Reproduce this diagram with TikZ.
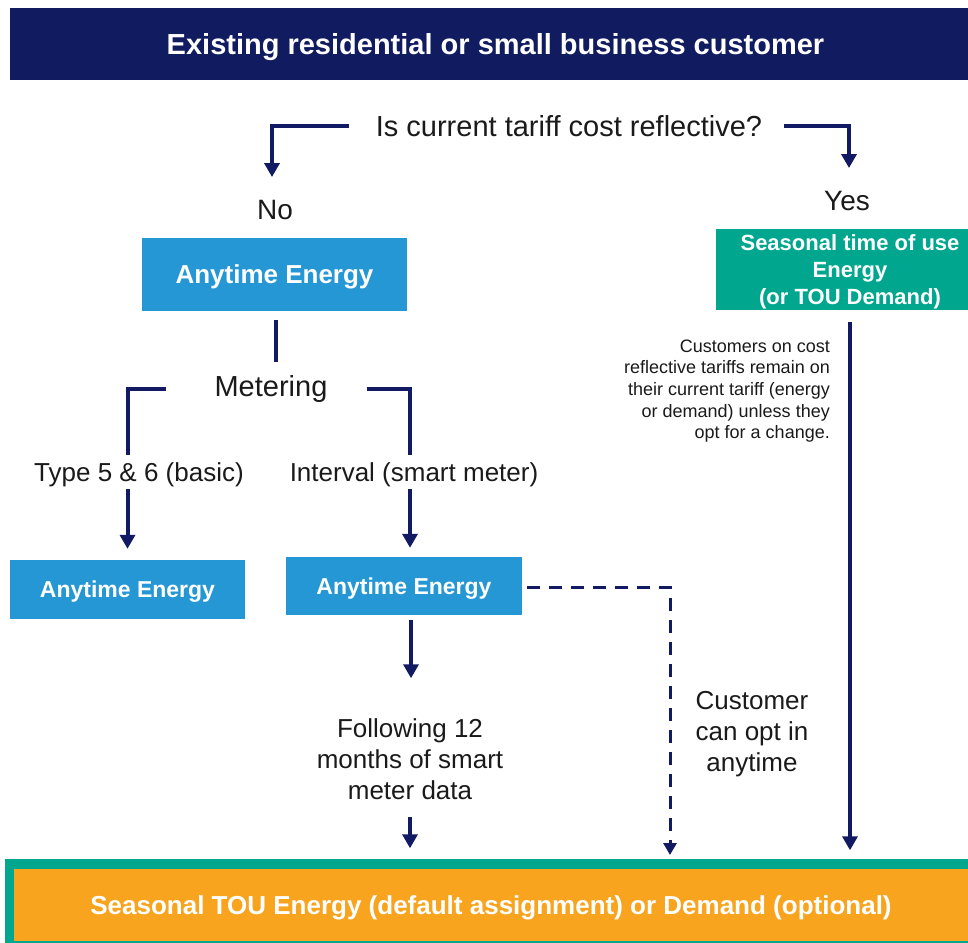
\documentclass[tikz,border=0pt]{standalone}
\usepackage{fontspec}
\setmainfont{Liberation Sans}
\usetikzlibrary{arrows.meta,calc}
\definecolor{navyband}{RGB}{17,27,96}
\definecolor{linknavy}{RGB}{18,26,100}
\definecolor{skyblue}{RGB}{37,151,213}
\definecolor{tealgreen}{RGB}{0,167,142}
\definecolor{amber}{RGB}{248,164,30}
\definecolor{ink}{RGB}{26,26,26}
\newcommand{\myfs}[2]{\fontsize{#1}{#2}\selectfont}
\begin{document}
\begin{tikzpicture}[x=1pt,y=-1pt,
  txt/.style={inner sep=0pt, text=ink, align=center},
  box/.style={inner sep=0pt, text=white, align=center, text depth=0pt},
  arr/.style={draw=linknavy, line width=4pt, -{Triangle[width=15pt,length=14pt]}},
  link/.style={draw=linknavy, line width=4pt},
  dasharr/.style={draw=linknavy, line width=3pt, dash pattern=on 13pt off 9pt,
                  -{Triangle[width=13pt,length=12pt]}}]
\useasboundingbox (0,0) rectangle (968,942);
\clip (0,0) rectangle (968,942);

% header band
\node[box, fill=navyband, minimum width=971pt, minimum height=72pt,
      font=\bfseries\myfs{29}{34}] (head) at (495.5,44)
      {Existing residential or small business customer};

% decision
\node[txt, font=\myfs{29}{34}] (q) at (569,126) {Is current tariff cost reflective?};
\node[txt, font=\myfs{28}{33}] (no) at (275,210) {No};
\node[txt, font=\myfs{28}{33}] (yes) at (847,201) {Yes};

% left branch
\node[box, fill=skyblue, minimum width=265pt, minimum height=73pt,
      font=\bfseries\myfs{26}{31}] (any1) at (274.5,274.5) {Anytime Energy};
\node[txt, font=\myfs{29}{34}] (met) at (271,389) {Metering};
\node[txt, font=\myfs{26}{31}] (type56) at (139,475) {Type 5 \& 6 (basic)};
\node[txt, font=\myfs{26}{31}] (interval) at (414,475) {Interval (smart meter)};
\node[box, fill=skyblue, minimum width=235pt, minimum height=59pt,
      font=\bfseries\myfs{23}{28}] (any2) at (127.5,589.5) {Anytime Energy};
\node[box, fill=skyblue, minimum width=236pt, minimum height=58pt,
      font=\bfseries\myfs{23}{28}] (any3) at (404,586) {Anytime Energy};
\node[txt, font=\myfs{26}{31}] (follow) at (410,759)
      {Following 12\\months of smart\\meter data};
\node[txt, font=\myfs{26}{31}] (opt) at (752,734) {Customer\\can opt in\\anytime};

% right branch
\node[box, fill=tealgreen, minimum width=268pt, minimum height=81pt,
      font=\bfseries\myfs{22}{27}] (tou) at (850,269.5)
      {Seasonal time of use\\Energy\\(or TOU Demand)};
\node[txt, align=right, anchor=east, font=\myfs{18}{21.7}] (note) at (830,391)
      {Customers on cost\\reflective tariffs remain on\\their current tariff (energy\\or demand) unless they\\opt for a change.};

% outcome
\node[box, fill=amber, draw=tealgreen, line width=9.5pt,
      minimum width=963pt, minimum height=82pt,
      font=\bfseries\myfs{26}{31}] (bottom) at (491,905)
      {Seasonal TOU Energy (default assignment) or Demand (optional)};
\coordinate (optx) at (670,864);

% connectors
\draw[arr] ([xshift=-27pt]q.west) -| ($(no.north)+(-3,-23)$);
\draw[arr] ([xshift=22pt]q.east) -| ($(yes.north)+(2,-23)$);
\draw[link] ($(any1.south)+(1.5,9)$) -- ($(any1.south |- met.north)+(1.5,-13.5)$);
\draw[link] ([xshift=-48pt]met.west) -| ($(type56.north -| any2.north)+(0,-8)$);
\draw[link] ([xshift=39pt]met.east) -| ($(interval.north)+(-4,-8)$);
\draw[arr] ($(type56.south -| any2.north)+(0,2)$) -- ($(any2.north)+(0,-11)$);
\draw[arr] ($(interval.south)+(-4,2)$) -- ($(any3.north)+(6,-9)$);
\draw[arr] ($(any3.south)+(7,5)$) -- ($(follow.north)+(1,-40)$);
\draw[arr] ($(follow.south)+(0,17)$) -- ($(follow.south |- bottom.north)+(0,-11)$);
\draw[dasharr] ($(any3.east)+(5,1)$) -| ($(optx)+(0,-9)$);
\draw[arr] ($(tou.south)+(0,12)$) -- ($(tou.south |- bottom.north)+(0,-9)$);
\end{tikzpicture}
\end{document}
